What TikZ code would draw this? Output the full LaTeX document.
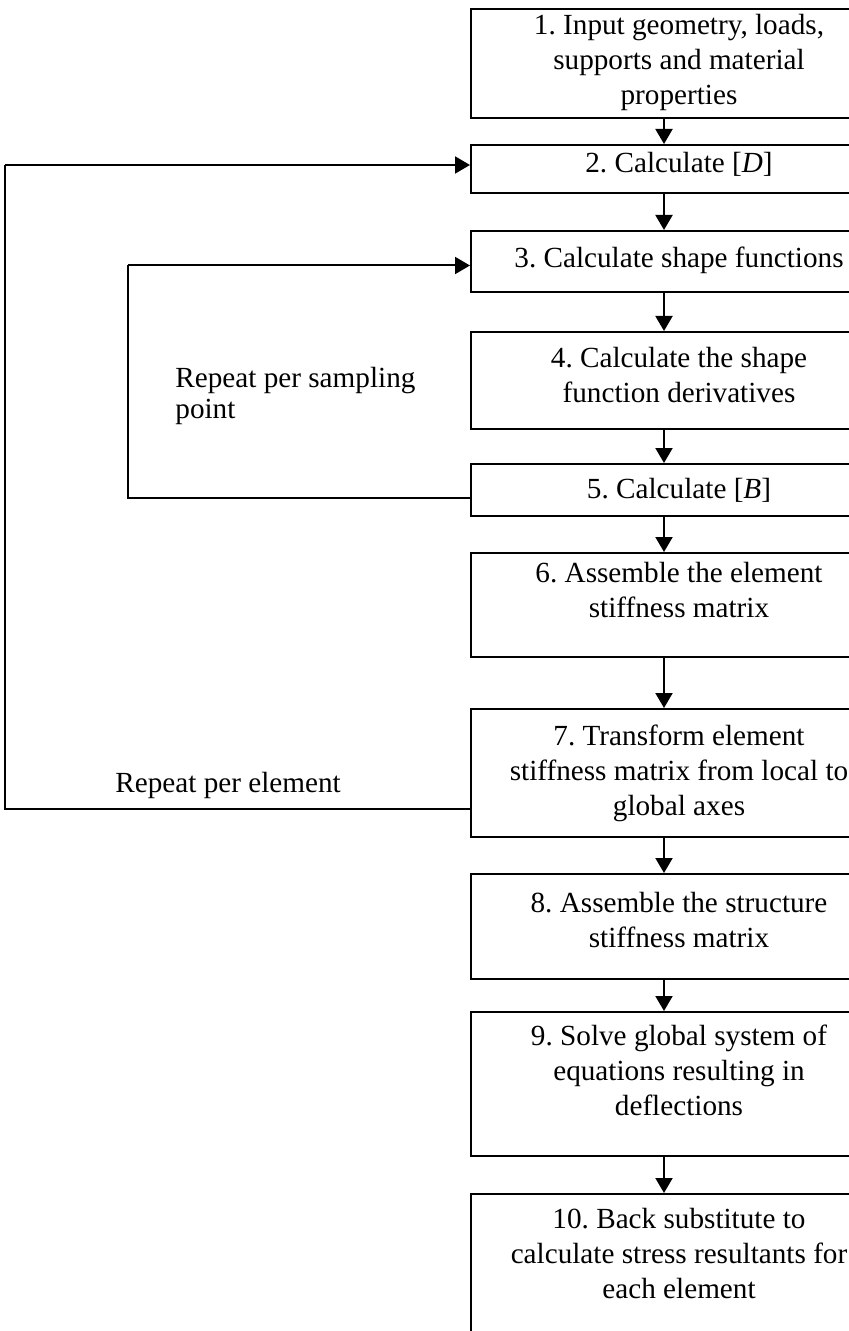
\documentclass[tikz,border=0pt]{standalone}
\usepackage{fontspec}
\setmainfont{Liberation Serif}
\usetikzlibrary{arrows.meta,positioning}
\frenchspacing

\tikzset{
  stepbox/.style={draw, line width=1pt, minimum width=208pt, inner sep=0pt, anchor=north},
  txt/.style={align=center, inner sep=0pt},
  note/.style={align=left, inner sep=0pt, anchor=north west},
  arr/.style={line width=1pt, -{Triangle[length=7.5pt,width=8.5pt]}},
  loop/.style={line width=1pt}
}

\begin{document}
\begin{tikzpicture}[x=0.5pt, y=-0.5pt, font=\fontsize{14.6}{17.5}\selectfont]
  \useasboundingbox (0,0) rectangle (849,1331);
  \clip (0,0) rectangle (849,1331);

  % boxes
  \node[stepbox, minimum height=54.5pt] (b1)  at (679,8)    {};
  \node[stepbox, minimum height=24pt]   (b2)  at (679,144)  {};
  \node[stepbox, minimum height=30.5pt] (b3)  at (679,230)  {};
  \node[stepbox, minimum height=48.5pt] (b4)  at (679,331)  {};
  \node[stepbox, minimum height=26pt]   (b5)  at (679,463)  {};
  \node[stepbox, minimum height=52pt]   (b6)  at (679,552)  {};
  \node[stepbox, minimum height=64pt]   (b7)  at (679,708)  {};
  \node[stepbox, minimum height=52.5pt] (b8)  at (679,873)  {};
  \node[stepbox, minimum height=72pt]   (b9)  at (679,1011) {};
  \node[stepbox, minimum height=110pt]  (b10) at (679,1193) {};

  % texts
  \node[txt, below=3pt of b1.north]   (t1)  {1. Input geometry, loads,\\supports and material\\properties};
  \node[txt, below=4pt of b2.north]   (t2)  {2. Calculate [\textit{D}]};
  \node[txt, below=8.5pt of b3.north] (t3)  {3. Calculate shape functions};
  \node[txt, below=8pt of b4.north]   (t4)  {4. Calculate the shape\\function derivatives};
  \node[txt, below=7.5pt of b5.north] (t5)  {5. Calculate [\textit{B}]};
  \node[txt, below=5pt of b6.north]   (t6)  {6. Assemble the element\\stiffness matrix};
  \node[txt, below=8.5pt of b7.north] (t7)  {7. Transform element\\stiffness matrix from local to\\global axes};
  \node[txt, below=9.5pt of b8.north] (t8)  {8. Assemble the structure\\stiffness matrix};
  \node[txt, below=7pt of b9.north]   (t9)  {9. Solve global system of\\equations resulting in\\deflections};
  \node[txt, below=7.5pt of b10.north] (t10) {10. Back substitute to\\calculate stress resultants for\\each element};

  % down arrows
  \coordinate (ax) at (664,0);
  \foreach \a/\b in {b1/b2,b2/b3,b3/b4,b4/b5,b5/b6,b6/b7,b7/b8,b8/b9,b9/b10}
    \draw[arr] (\a.south -| ax) -- (\b.north -| ax);

  % loops
  \coordinate (outer) at (5,0);
  \coordinate (inner) at (128,0);
  \coordinate (e7) at ([yshift=-18pt]b7.west);
  \coordinate (e2) at ([yshift=2pt]b2.west);
  \coordinate (s5) at ([yshift=-4pt]b5.west);
  \coordinate (s3) at ([yshift=-2pt]b3.west);
  \draw[loop] (e7) -- (e7 -| outer) -- (e2 -| outer);
  \draw[arr] (e2 -| outer) -- (e2);
  \draw[loop] (s5) -- (s5 -| inner) -- (s3 -| inner);
  \draw[arr] (s3 -| inner) -- (s3);

  \node[note, font=\fontsize{14.6}{15.5}\selectfont] (ns) at (175,367) {Repeat per sampling\\point};
  \node[note] (ne) at (115,772) {Repeat per element};
\end{tikzpicture}
\end{document}
